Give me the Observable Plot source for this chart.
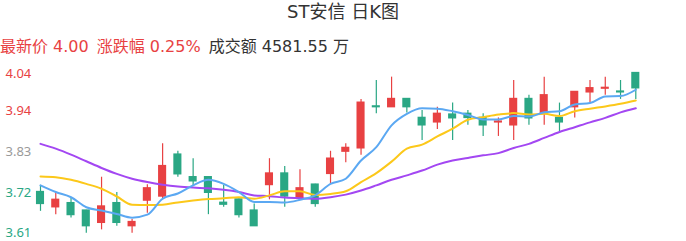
<!DOCTYPE html>
<html>
<head>
<meta charset="utf-8">
<script src="https://cdn.jsdelivr.net/npm/d3@7"></script>
<script src="https://cdn.jsdelivr.net/npm/@observablehq/plot@0.6"></script>
<style>
  html, body { margin: 0; padding: 0; background: #fff; width: 686px; height: 241px; overflow: hidden; }
  #wrap { position: relative; width: 686px; height: 241px; font-family: "DejaVu Sans", "Noto Sans CJK SC", sans-serif; }
  #title { position: absolute; left: 0; top: 0; width: 686px; text-align: center; font-size: 18px; line-height: 24px; color: #333; }
  #info { position: absolute; left: 0; top: 35px; font-size: 16px; line-height: 24px; white-space: nowrap; }
  #info .up { color: #e84142; }
  #info .n { color: #333; }
  #info span + span { margin-left: 8px; }
  #chart { position: absolute; left: 0; top: 60px; }
</style>
</head>
<body>
<div id="wrap">
  <div id="title"></div>
  <div id="info"></div>
  <div id="chart"></div>
</div>
<script>
const title = "ST安信 日K图";
const infoItems = [
  {label: "最新价", value: "4.00", cls: "up"},
  {label: "涨跌幅", value: "0.25%", cls: "up"},
  {label: "成交额", value: "4581.55 万", cls: "n"}
];

const open  = [3.721,3.680,3.691,3.671,3.638,3.691,3.629,3.698,3.709,3.822,3.761,3.761,3.692,3.701,3.671,3.740,3.771,3.704,3.741,3.770,3.830,3.839,3.952,3.950,3.972,3.921,3.909,3.930,3.932,3.921,3.909,3.901,3.972,3.932,3.921,3.950,3.990,4.000,3.992,4.042];
const high  = [3.739,3.718,3.706,3.672,3.761,3.720,3.647,3.741,3.851,3.831,3.811,3.762,3.739,3.702,3.689,3.811,3.790,3.781,3.742,3.831,3.851,3.971,4.022,4.031,3.972,3.941,3.950,3.961,3.941,3.932,3.921,4.022,3.982,4.031,3.961,3.992,4.022,4.031,4.022,4.042];
const low   = [3.669,3.660,3.651,3.610,3.619,3.629,3.610,3.664,3.700,3.761,3.739,3.660,3.680,3.651,3.629,3.700,3.680,3.704,3.680,3.743,3.800,3.820,3.932,3.950,3.934,3.860,3.890,3.860,3.901,3.871,3.871,3.860,3.901,3.901,3.884,3.921,3.961,3.982,3.971,3.971];
const close = [3.689,3.700,3.659,3.629,3.682,3.638,3.640,3.731,3.791,3.769,3.750,3.719,3.687,3.659,3.629,3.771,3.709,3.731,3.689,3.811,3.840,3.962,3.950,3.972,3.950,3.901,3.932,3.920,3.921,3.901,3.911,3.972,3.920,3.982,3.909,3.991,4.001,4.002,3.990,4.001];

const ma5  = [3.739,3.721,3.707,3.680,3.671,3.662,3.652,3.660,3.703,3.717,3.739,3.754,3.743,3.721,3.694,3.694,3.693,3.700,3.712,3.743,3.757,3.806,3.842,3.901,3.932,3.947,3.946,3.939,3.929,3.917,3.917,3.926,3.925,3.936,3.939,3.957,3.961,3.979,3.980,3.997];
const ma10 = [3.763,3.761,3.754,3.743,3.730,3.709,3.687,3.686,3.687,3.693,3.698,3.702,3.704,3.707,3.703,3.712,3.723,3.723,3.713,3.716,3.723,3.748,3.772,3.803,3.838,3.849,3.871,3.892,3.916,3.923,3.930,3.934,3.930,3.932,3.926,3.939,3.946,3.952,3.959,3.968];
const ma20 = [3.851,3.838,3.822,3.804,3.786,3.770,3.757,3.748,3.741,3.736,3.733,3.731,3.727,3.721,3.712,3.710,3.706,3.704,3.703,3.707,3.714,3.725,3.739,3.754,3.766,3.779,3.795,3.806,3.813,3.820,3.826,3.840,3.851,3.867,3.883,3.896,3.909,3.921,3.936,3.947];

const yTicks = [4.04, 3.94, 3.83, 3.72, 3.61];
const refPrice = 3.83;

const upColor = "#e84142", downColor = "#2aa784", flatColor = "#9a9a9a";

document.getElementById("title").textContent = title;
const info = document.getElementById("info");
for (const it of infoItems) {
  const s = document.createElement("span");
  s.className = it.cls;
  s.textContent = it.label + " " + it.value;
  info.appendChild(s);
}

const candles = open.map((o, i) => ({i, open: o, high: high[i], low: low[i], close: close[i], up: close[i] >= o}));
const n = candles.length;
const mk = arr => arr.map((v, i) => ({i, v}));
const m5 = mk(ma5), m10 = mk(ma10), m20 = mk(ma20);

const chart = Plot.plot({
  width: 686,
  height: 181,
  marginLeft: 40,
  marginRight: 50.7,
  marginTop: 13.3,
  marginBottom: 8.3,
  x: {domain: [0, n - 1], axis: null},
  y: {domain: [3.61, 4.04], axis: null},
  style: {fontFamily: "'Noto Sans', 'DejaVu Sans', sans-serif", background: "transparent", overflow: "visible"},
  marks: [
    Plot.text(yTicks, {
      y: d => d, text: d => d.toFixed(2), frameAnchor: "left", textAnchor: "start", dx: -35,
      fontSize: 13,
      fill: d => d > refPrice + 1e-9 ? upColor : (d < refPrice - 1e-9 ? downColor : flatColor)
    }),
    Plot.ruleX(candles, {x: "i", y1: "low", y2: "high", stroke: d => d.up ? upColor : downColor, strokeWidth: 1.2}),
    Plot.rect(candles, {
      x1: d => d.i - 0.265, x2: d => d.i + 0.265,
      y1: "open", y2: "close",
      insetTop: -0.7, insetBottom: -0.7,
      fill: d => d.up ? upColor : downColor
    }),
    Plot.line(m20, {x: "i", y: "v", stroke: "#a347f2", strokeWidth: 2, curve: "monotone-x"}),
    Plot.line(m10, {x: "i", y: "v", stroke: "#fcc81a", strokeWidth: 2, curve: "monotone-x"}),
    Plot.line(m5,  {x: "i", y: "v", stroke: "#5ba8f2", strokeWidth: 2, curve: "monotone-x"})
  ]
});
document.getElementById("chart").appendChild(chart);
</script>
</body>
</html>
